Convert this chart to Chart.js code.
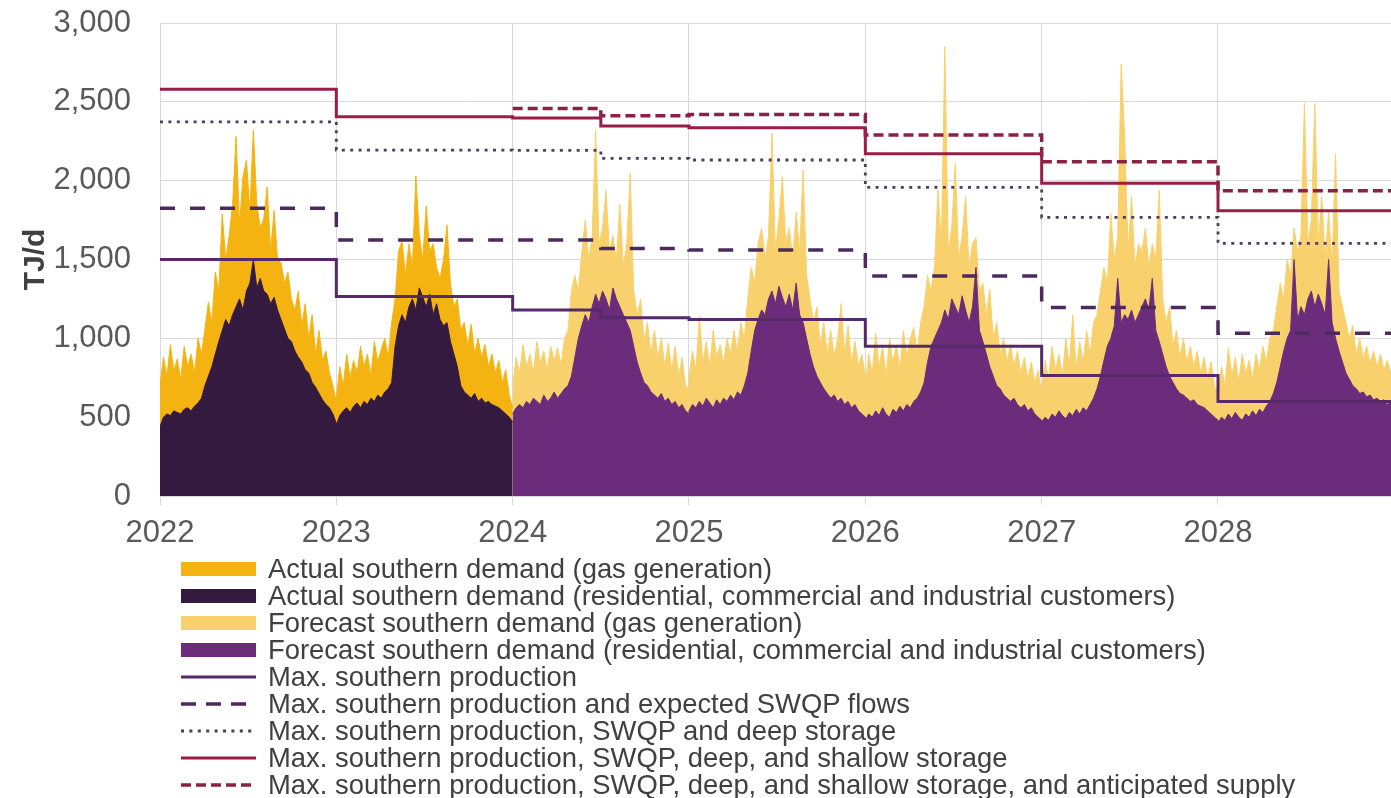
<!DOCTYPE html>
<html>
<head>
<meta charset="utf-8">
<title>Southern demand and supply capacity</title>
<script src="https://cdn.jsdelivr.net/npm/chart.js@4.4.1/dist/chart.umd.min.js"></script>
<style>
  html, body { margin: 0; padding: 0; background: #ffffff; }
  body { width: 1391px; height: 798px; position: relative; overflow: hidden;
         font-family: "Liberation Sans", Arial, sans-serif; }
  #chart { position: absolute; left: 0; top: 0; }
  #legend { position: absolute; left: 181px; top: 555px; }
  .row { height: 27.1px; display: flex; align-items: center; font-size: 27.4px;
         color: #404040; white-space: nowrap; }
  .sw { width: 75px; margin-right: 12px; flex: none; display: flex; align-items: center; }
</style>
</head>
<body>
<canvas id="chart" width="1391" height="560"></canvas>
<div id="legend"></div>
<script>
// Weekly southern demand (TJ/d), 52 readings per calendar year.
// rci = residential, commercial and industrial customers; gpg = gas generation.
const rci2022 = [440,500,520,510,540,530,520,550,560,540,570,590,620,700,760,820,900,980,1050,1120,1080,1150,1200,1250,1180,1300,1350,1500,1320,1380,1300,1280,1220,1260,1180,1120,1060,1000,980,920,880,850,800,780,720,690,650,610,580,560,520,460];
const gpg2022 = [260,380,240,450,250,340,220,400,260,360,210,410,280,360,470,280,520,320,740,380,570,700,1080,470,845,830,450,820,530,320,460,680,330,550,320,360,290,420,270,260,420,230,420,220,430,210,400,250,340,220,180,140];
const rci2023 = [450,510,540,560,530,570,590,560,600,580,620,600,640,620,660,680,720,950,1080,1150,1100,1200,1250,1180,1320,1260,1200,1280,1150,1220,1120,1080,1100,980,900,820,700,660,640,620,650,600,620,590,600,580,570,560,540,520,500,470];
const gpg2023 = [170,310,160,340,220,290,190,390,220,320,140,380,210,310,340,200,380,300,470,470,300,400,200,850,330,240,640,270,450,230,260,420,620,370,300,430,350,440,310,470,250,400,260,370,220,320,210,300,180,280,140,90];
const rci2024 = [520,560,580,560,600,580,620,600,580,640,600,620,660,620,650,680,700,760,880,1000,1080,1150,1100,1200,1280,1220,1300,1250,1180,1320,1250,1200,1150,1100,1050,950,850,780,720,700,660,640,620,650,600,620,580,600,560,580,540,520];
const gpg2024 = [180,320,200,400,220,320,160,380,260,280,200,330,200,320,180,320,350,540,520,300,470,600,400,450,1040,380,400,690,370,330,250,650,300,500,1000,350,300,470,260,400,240,410,260,350,220,350,220,350,200,300,160,160];
const rci2025 = [540,580,560,600,570,620,590,560,610,580,620,600,640,610,660,640,700,780,920,1050,1120,1180,1150,1250,1300,1220,1330,1260,1200,1280,1180,1350,1150,1100,1000,900,820,760,720,680,650,620,640,600,620,580,600,560,580,540,520,500];
const gpg2025 = [220,340,240,540,280,360,230,490,270,380,220,400,260,440,260,460,300,470,530,300,480,520,350,400,1000,330,420,765,400,420,320,450,400,970,400,350,280,440,230,420,250,430,240,400,600,320,480,290,400,280,380,260];
const rci2026 = [480,520,500,540,510,560,520,500,550,530,570,540,580,560,600,620,660,720,850,950,1000,1050,1100,1180,1120,1250,1200,1150,1270,1180,1100,1200,1450,1050,980,900,820,760,700,680,640,620,600,620,580,560,580,540,560,520,500,480];
const gpg2026 = [220,380,280,490,310,390,240,500,300,430,230,510,300,440,470,280,440,480,550,350,450,890,500,1670,430,450,910,350,380,720,350,400,190,250,370,250,490,240,400,220,360,230,360,200,340,220,300,200,290,200,300,170];
const rci2027 = [470,500,480,520,500,540,510,490,530,510,550,520,560,540,580,620,680,760,860,950,1000,1080,1380,1100,1150,1120,1180,1100,1150,1200,1250,1180,1380,1050,980,900,820,760,720,680,650,640,620,600,610,580,570,560,540,520,500,480];
const gpg2027 = [210,360,260,430,300,360,250,510,290,640,250,460,290,510,320,480,470,540,590,400,790,420,270,1640,1130,430,720,350,450,350,450,270,220,450,960,350,280,440,230,370,230,360,230,350,210,340,210,320,210,330,200,160];
const rci2028 = [460,500,480,520,490,530,500,480,520,500,540,510,550,530,570,600,650,720,820,920,1000,1050,1500,1120,1200,1150,1250,1300,1200,1280,1220,1150,1500,1100,1000,920,850,780,740,700,680,650,660,630,640,610,620,600,610,580,600,570];
const gpg2028 = [180,320,220,420,270,350,220,420,260,360,200,390,250,420,280,400,400,480,530,330,500,350,200,430,450,1340,350,450,1290,320,680,350,300,350,1170,380,350,320,260,380,220,350,210,320,200,310,200,300,190,280,180,170];

// Supply capacity levels (TJ/d); each level holds from its date until the next one.
const stepDates          = [2022, 2023, 2024, 2024.5, 2025, 2026, 2027, 2028, 2029];
const maxProduction      = [1500, 1265, 1180, 1130, 1120, 950, 765, 600, 600];
const withSwqp           = [1825, 1623, 1623, 1570, 1560, 1395, 1196, 1032, 1032];
const withDeepStorage    = [2373, 2194, 2192, 2141, 2131, 1957, 1767, 1602, 1602];
const withShallowStorage = [2580, 2405, 2397, 2346, 2335, 2170, 1983, 1809, 1809];
const withAnticipated    = [null, null, 2458, 2412, 2420, 2289, 2120, 1936, 1936];

const yTicks = [0, 500, 1000, 1500, 2000, 2500, 3000];
const xTicks = [2022, 2023, 2024, 2025, 2026, 2027, 2028];

const actualYears   = [[2022, rci2022, gpg2022], [2023, rci2023, gpg2023]];
const forecastYears = [[2024, rci2024, gpg2024], [2025, rci2025, gpg2025], [2026, rci2026, gpg2026],
                       [2027, rci2027, gpg2027], [2028, rci2028, gpg2028]];

// Spread each year's weekly readings across the year, stacking gas generation on customers.
function buildSeries(years) {
  const base = [], total = [];
  years.forEach(([yr, rci, gpg]) => {
    const n = rci.length;
    rci.forEach((v, i) => {
      const x = yr + i / (n - 1);
      base.push({ x, y: v });
      total.push({ x, y: v + gpg[i] });
    });
  });
  return { base, total };
}
const actual = buildSeries(actualYears);
const forecast = buildSeries(forecastYears);

function stepSeries(values) {
  return stepDates.map((d, i) => ({ x: d, y: values[i] }));
}

const COLORS = {
  actualGpg: '#f5b312',
  actualRci: '#341a3f',
  forecastGpg: '#f8d16c',
  forecastRci: '#6b2c7b',
  maxProd: '#55296a',
  swqp: '#4d2a5e',
  deep: '#4f3d5e',
  shallow: '#9b1d45',
  anticipated: '#8c2046'
};

function area(label, data, color, order) {
  return { label, data, backgroundColor: color, borderColor: color, borderWidth: 1,
           fill: 'origin', pointRadius: 0, tension: 0, order };
}
function step(label, values, color, width, dash) {
  // 'before': hold the previous level horizontally, then change at the next date
  return { label, data: stepSeries(values), borderColor: color, backgroundColor: color,
           borderWidth: width, borderDash: dash, stepped: 'before', fill: false,
           pointRadius: 0, order: 0, borderCapStyle: 'butt' };
}

const FONT = '"Liberation Sans", Arial, sans-serif';
Chart.defaults.font.family = FONT;

const pxPerYear = (1218 - 160) / 6;
const xMax = 2022 + (1391 - 160) / pxPerYear;

new Chart(document.getElementById('chart'), {
  type: 'line',
  data: {
    datasets: [
      area('Actual southern demand (gas generation)', actual.total, COLORS.actualGpg, 2),
      area('Actual southern demand (residential, commercial and industrial customers)', actual.base, COLORS.actualRci, 1),
      area('Forecast southern demand (gas generation)', forecast.total, COLORS.forecastGpg, 2),
      area('Forecast southern demand (residential, commercial and industrial customers)', forecast.base, COLORS.forecastRci, 1),
      step('Max. southern production', maxProduction, COLORS.maxProd, 3, []),
      step('Max. southern production and expected SWQP flows', withSwqp, COLORS.swqp, 3.5, [15, 15]),
      step('Max. southern production, SWQP and deep storage', withDeepStorage, COLORS.deep, 2.8, [3, 5.4]),
      step('Max. southern production, SWQP, deep, and shallow storage', withShallowStorage, COLORS.shallow, 3, []),
      step('Max. southern production, SWQP, deep, and shallow storage, and anticipated supply', withAnticipated, COLORS.anticipated, 3.5, [10, 5])
    ]
  },
  options: {
    responsive: false,
    animation: false,
    layout: { padding: { top: 23, right: 0, bottom: 0, left: 0 } },
    plugins: { legend: { display: false }, tooltip: { enabled: false } },
    scales: {
      x: {
        type: 'linear',
        min: 2022,
        max: xMax,
        afterFit: (s) => { s.height = 64; },
        afterBuildTicks: (s) => { s.ticks = xTicks.map(v => ({ value: v })); },
        grid: { color: '#d9d9d9', lineWidth: 1, drawTicks: true, tickLength: 9, tickColor: '#d9d9d9' },
        border: { display: true, color: '#d9d9d9' },
        ticks: { autoSkip: false, maxRotation: 0, padding: 10, color: '#595959',
                 font: { size: 31 }, callback: (v) => String(Math.round(v)) }
      },
      y: {
        min: 0,
        max: 3000,
        afterFit: (s) => { s.width = 160; },
        afterBuildTicks: (s) => { s.ticks = yTicks.map(v => ({ value: v })); },
        // invisible tick marks keep the labels clear of the plot edge
        grid: { color: '#d9d9d9', lineWidth: 1, drawTicks: true, tickLength: 29, tickColor: 'rgba(0,0,0,0)' },
        border: { display: true, color: '#d9d9d9' },
        ticks: { padding: 0, color: '#595959', font: { size: 31 },
                 callback: (v) => v.toLocaleString('en-US') },
        title: { display: true, text: 'TJ/d', color: '#404040',
                 font: { size: 30, weight: 'bold' }, padding: { top: 18, bottom: 0 } }
      }
    }
  }
});

// Legend rows
const legendItems = [
  { kind: 'box', color: COLORS.actualGpg, text: 'Actual southern demand (gas generation)' },
  { kind: 'box', color: COLORS.actualRci, text: 'Actual southern demand (residential, commercial and industrial customers)' },
  { kind: 'box', color: COLORS.forecastGpg, text: 'Forecast southern demand (gas generation)' },
  { kind: 'box', color: COLORS.forecastRci, text: 'Forecast southern demand (residential, commercial and industrial customers)' },
  { kind: 'line', color: COLORS.maxProd, width: 3, dash: '', text: 'Max. southern production' },
  { kind: 'line', color: COLORS.swqp, width: 3.5, dash: '15 10', text: 'Max. southern production and expected SWQP flows' },
  { kind: 'line', color: COLORS.deep, width: 2.8, dash: '3 5.4', text: 'Max. southern production, SWQP and deep storage' },
  { kind: 'line', color: COLORS.shallow, width: 3, dash: '', text: 'Max. southern production, SWQP, deep, and shallow storage' },
  { kind: 'line', color: COLORS.anticipated, width: 3.5, dash: '10 5', text: 'Max. southern production, SWQP, deep, and shallow storage, and anticipated supply' }
];
const legend = document.getElementById('legend');
legendItems.forEach(item => {
  const row = document.createElement('div');
  row.className = 'row';
  const sw = document.createElement('div');
  sw.className = 'sw';
  if (item.kind === 'box') {
    sw.innerHTML = `<div style="width:75px;height:14px;background:${item.color}"></div>`;
  } else {
    sw.innerHTML = `<svg width="75" height="10"><line x1="0" y1="5" x2="75" y2="5" stroke="${item.color}" stroke-width="${item.width}" ${item.dash ? `stroke-dasharray="${item.dash}"` : ''}/></svg>`;
  }
  const label = document.createElement('span');
  label.textContent = item.text;
  row.appendChild(sw);
  row.appendChild(label);
  legend.appendChild(row);
});
</script>
</body>
</html>
